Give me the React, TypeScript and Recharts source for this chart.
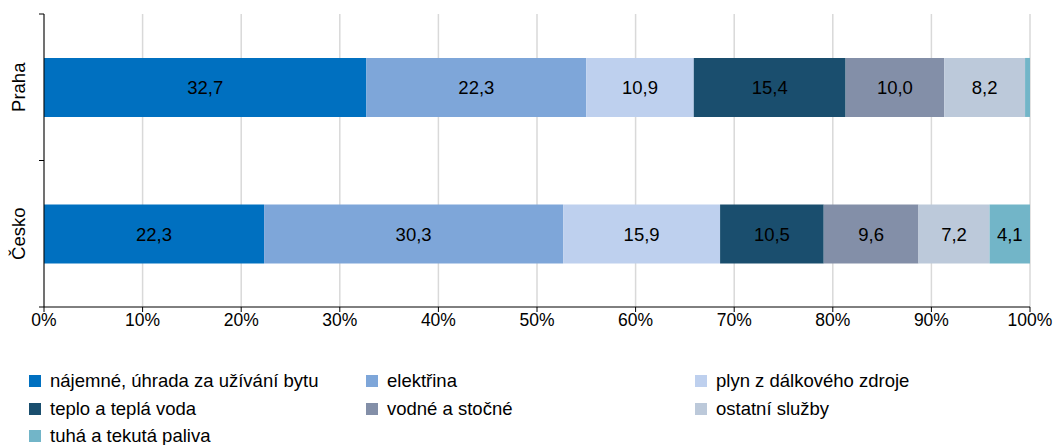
import React from "react";
import { BarChart, Bar, XAxis, YAxis, CartesianGrid, LabelList, Legend } from "recharts";

const categories = ["Praha", "Česko"];
const seriesNames = [
  "nájemné, úhrada za užívání bytu",
  "elektřina",
  "plyn z dálkového zdroje",
  "teplo a teplá voda",
  "vodné a stočné",
  "ostatní služby",
  "tuhá a tekutá paliva",
];
const pragueValues = [32.7, 22.3, 10.9, 15.4, 10.0, 8.2, 0.5];
const czechValues = [22.3, 30.3, 15.9, 10.5, 9.6, 7.2, 4.1];
const xTicks = [0, 0.1, 0.2, 0.3, 0.4, 0.5, 0.6, 0.7, 0.8, 0.9, 1];
const colors = ["#0070C0", "#7EA6D9", "#BED0EE", "#1A4E6E", "#838FA8", "#BCC9DA", "#72B5C8"];

const valueLists = [pragueValues, czechValues];
const data = categories.map((name, ci) => {
  const row: Record<string, string | number> = { name };
  seriesNames.forEach((s, si) => {
    row["s" + si] = valueLists[ci][si];
  });
  return row;
});

const FONT = "'Liberation Sans', Arial, sans-serif";
const FS = 18.5;

const YTick = (props: any) => {
  const { x, y, payload } = props;
  const half = 73.25;
  return (
    <g>
      <line x1={x + 8} x2={x + 3} y1={y - half} y2={y - half} stroke="#000" />
      <line x1={x + 8} x2={x + 3} y1={y + half} y2={y + half} stroke="#000" />
      <text
        x={x - 18}
        y={y}
        transform={`rotate(-90, ${x - 18}, ${y})`}
        textAnchor="middle"
        dominantBaseline="central"
        fontSize={FS}
        fontFamily={FONT}
        fill="#000"
      >
        {payload.value}
      </text>
    </g>
  );
};

const renderLegend = () => {
  const cols = [0, 337, 666];
  return (
    <div style={{ position: "relative", width: 1055, height: 0, fontFamily: FONT, fontSize: FS }}>
      {seriesNames.map((name, i) => {
        const col = i % 3;
        const row = Math.floor(i / 3);
        return (
          <div
            key={name}
            style={{
              position: "absolute",
              left: 29 + cols[col],
              top: row * 27.5,
              display: "flex",
              alignItems: "center",
              height: 22,
              whiteSpace: "nowrap",
              color: "#000",
            }}
          >
            <span style={{ display: "inline-block", width: 12, height: 12, background: colors[i], marginRight: 9 }} />
            <span>{name}</span>
          </div>
        );
      })}
    </div>
  );
};

export default function App() {
  return (
    <div style={{ position: "absolute", left: 0, top: 0, width: 1055, height: 445, background: "#fff" }}>
      <BarChart
        width={1055}
        height={445}
        data={data}
        layout="vertical"
        stackOffset="expand"
        barCategoryGap="30%"
        margin={{ top: 14, right: 25, bottom: 108, left: 0 }}
      >
        <CartesianGrid horizontal={false} stroke="#D9D9D9" strokeWidth={1.5} />
        <XAxis
          type="number"
          domain={[0, 1]}
          ticks={xTicks}
          tickFormatter={(v: number) => `${Math.round(v * 100)}%`}
          axisLine={{ stroke: "#000" }}
          tickLine={{ stroke: "#000" }}
          tickSize={5}
          tick={{ fill: "#000", fontSize: 17.5, fontFamily: FONT }}
          height={30}
          interval={0}
        />
        <YAxis
          type="category"
          dataKey="name"
          width={44}
          axisLine={{ stroke: "#000" }}
          tickLine={false}
          tick={<YTick />}
        />
        {seriesNames.map((s, si) => (
          <Bar key={s} dataKey={"s" + si} name={s} stackId="a" fill={colors[si]} isAnimationActive={false}>
            <LabelList
              dataKey={"s" + si}
              position="center"
              fill="#000"
              fontSize={FS}
              fontFamily={FONT}
              formatter={(v: any) => (Number(v) >= 1 ? Number(v).toFixed(1).replace(".", ",") : "")}
            />
          </Bar>
        ))}
        <Legend
          content={renderLegend}
          wrapperStyle={{ position: "absolute", left: 0, top: 370, width: 1055, height: 0 }}
        />
      </BarChart>
    </div>
  );
}
